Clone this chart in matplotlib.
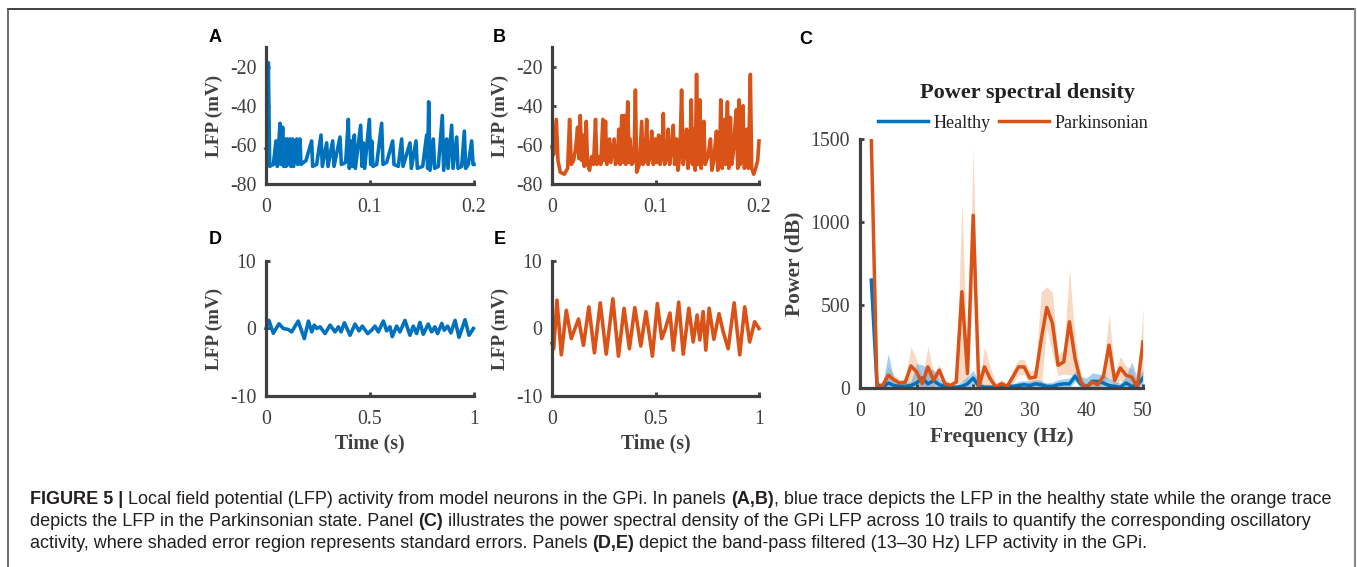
import numpy as np
import matplotlib
matplotlib.use('Agg')
import matplotlib.pyplot as plt
from matplotlib.lines import Line2D

plt.rcParams['axes.unicode_minus'] = False

# ---- data ----
# panel A: healthy LFP, time in ms, voltage in mV
a_time_ms = [0, 1.28, 2.24, 3.53, 7.05, 9.62, 10.9, 13.46, 14.42, 16.03, 16.99, 18.27,
             19.23, 20.51, 21.47, 23.08, 24.04, 25.64, 26.6, 29.49, 30.45, 32.69, 33.65,
             38.46, 43.91, 44.87, 48.72, 52.88, 54.17, 58.33, 59.62, 64.1, 65.38, 71.15,
             72.44, 76.6, 79.17, 80.13, 82.37, 83.33, 84.94, 85.9, 91.03, 92.31, 93.59,
             94.87, 99.36, 100.64, 101.6, 102.88, 106.41, 111.22, 112.5, 116.03, 121.79,
             123.08, 127.24, 130.45, 131.73, 138.46, 139.74, 144.23, 145.51, 150.64,
             154.49, 155.45, 156.41, 157.69, 160.9, 162.18, 165.71, 169.55, 170.83,
             173.72, 175.0, 178.53, 179.81, 183.33, 184.62, 188.14, 190.71, 191.99,
             194.55, 197.76, 199.04, 200.0]
a_lfp = [-62, -63, -18, -71, -70, -58, -71, -49, -70, -51, -71, -57, -71, -57, -70, -57,
         -71, -57, -71, -57, -70, -57, -70, -68, -58, -71, -70, -55, -71, -59, -71, -58,
         -71, -56, -70, -69, -47, -72, -58, -71, -55, -72, -50, -71, -59, -72, -47, -70,
         -58, -71, -70, -49, -70, -69, -58, -70, -71, -57, -71, -59, -72, -58, -72, -71,
         -55, -72, -38, -73, -57, -72, -71, -45, -73, -57, -72, -50, -72, -56, -72, -71,
         -53, -72, -70, -58, -70, -70]

# panel B: parkinsonian LFP
b_time_ms = [0, 1.61, 4.17, 5.78, 8.03, 11.88, 15.09, 17.01, 18.62, 20.87, 22.79, 24.72,
             26.0, 27.29, 28.57, 29.86, 31.14, 33.07, 34.35, 36.28, 38.2, 40.13, 42.05,
             43.34, 45.26, 47.19, 49.12, 50.4, 51.69, 52.97, 55.54, 56.82, 60.03, 61.32,
             63.24, 64.53, 65.81, 67.42, 68.7, 69.98, 71.27, 73.19, 74.48, 75.44, 77.05,
             79.29, 80.58, 81.86, 84.43, 86.68, 87.96, 89.89, 91.49, 92.78, 94.7, 96.31,
             97.91, 99.84, 101.12, 103.05, 104.33, 106.26, 107.54, 108.83, 110.75,
             112.36, 113.64, 115.57, 117.17, 118.46, 120.39, 121.67, 123.6, 125.2,
             126.81, 128.73, 130.02, 131.3, 133.23, 134.51, 135.79, 137.08, 138.36,
             139.65, 141.25, 142.86, 144.14, 145.43, 146.71, 147.99, 150.56, 153.13,
             154.41, 156.34, 157.62, 158.91, 160.19, 162.12, 163.08, 164.37, 166.29,
             167.58, 169.5, 170.79, 172.39, 173.68, 175.6, 176.89, 178.17, 179.45,
             180.74, 182.02, 183.31, 184.59, 185.87, 187.16, 188.44, 189.73, 191.65,
             192.94, 194.86, 196.79, 198.72, 200.0]
b_lfp = [-61, -65, -47, -68, -74, -75, -72, -47, -70, -68, -62, -51, -67, -45, -68, -55,
         -71, -48, -70, -73, -66, -70, -47, -70, -66, -70, -47, -68, -48, -70, -57, -69,
         -57, -70, -68, -52, -70, -45, -69, -45, -70, -38, -69, -57, -70, -68, -32, -74,
         -70, -48, -70, -68, -47, -70, -66, -53, -70, -57, -69, -55, -70, -65, -44, -70,
         -67, -52, -70, -62, -50, -70, -57, -73, -65, -32, -70, -62, -52, -72, -64, -37,
         -70, -52, -73, -24, -70, -37, -72, -62, -48, -70, -66, -57, -73, -68, -60, -53,
         -73, -62, -37, -72, -47, -70, -38, -72, -46, -70, -62, -50, -42, -72, -37, -70,
         -55, -40, -72, -66, -52, -72, -24, -72, -75, -72, -68, -58]

# panel D: healthy band-pass filtered LFP (s, mV)
d_time = [0.0, 0.014, 0.035, 0.0625, 0.083, 0.107, 0.123, 0.155, 0.184, 0.204, 0.22,
          0.232, 0.244, 0.26, 0.284, 0.308, 0.332, 0.348, 0.361, 0.377, 0.404, 0.428,
          0.447, 0.463, 0.489, 0.508, 0.524, 0.54, 0.564, 0.58, 0.596, 0.607, 0.628,
          0.644, 0.668, 0.692, 0.708, 0.724, 0.74, 0.756, 0.78, 0.796, 0.812, 0.825,
          0.845, 0.857, 0.873, 0.889, 0.909, 0.928, 0.957, 0.976, 0.992, 0.997]
d_lfp = [0.0, 1.2, -0.7, 0.7, 0.0, -0.15, -0.5, 1.1, -1.5, 1.1, -0.5, 0.5, 0.0, 0.25,
         -0.75, 0.5, -0.5, 0.25, -0.5, 0.85, -1.0, 0.65, -0.35, 0.35, -0.75, -0.25, 0.35,
         -0.5, 1.1, -0.35, 0.25, -1.2, 0.35, -0.5, 1.2, -1.0, 0.35, -0.75, 0.9, -0.85,
         0.65, -0.5, 0.25, -0.75, 0.75, -0.25, 0.35, -0.65, 1.2, -1.3, 1.3, -1.0, -0.25, 0.0]

# panel E: parkinsonian band-pass filtered LFP
e_time = [0.0, 0.008, 0.024, 0.045, 0.069, 0.093, 0.128, 0.152, 0.178, 0.205, 0.233,
          0.262, 0.294, 0.321, 0.348, 0.374, 0.4, 0.429, 0.454, 0.485, 0.509, 0.53,
          0.546, 0.57, 0.586, 0.612, 0.634, 0.661, 0.682, 0.701, 0.714, 0.73, 0.743,
          0.759, 0.782, 0.807, 0.827, 0.851, 0.88, 0.907, 0.931, 0.955, 0.979, 1.0]
e_lfp = [-2.2, -3.0, 4.2, -3.9, 2.7, -1.5, 1.4, -2.5, 3.2, -3.6, 3.8, -3.8, 4.4, -4.1,
         3.0, -3.0, 3.1, -2.6, 2.5, -4.1, 3.7, -1.5, -0.2, 2.3, -3.2, 3.9, -3.8, 3.0,
         -2.0, 2.0, -1.7, 2.5, -3.2, 3.0, -1.6, 2.2, -0.5, -3.0, 3.8, -3.9, 3.2, -2.0,
         1.0, 0.0]

# panel C: power spectral density
freq = [2, 3, 4, 5, 6, 7, 8, 9, 10, 11, 12, 13, 14, 15, 16, 17, 18, 19, 20, 21, 22, 23,
        24, 25, 26, 27, 28, 29, 30, 31, 32, 33, 34, 35, 36, 37, 38, 39, 40, 41, 42, 43,
        44, 45, 46, 47, 48, 49, 50]
pd_mean = [1500, 0, 15, 77, 50, 30, 35, 133, 97, 26, 127, 46, 107, 26, 16, 36, 580, 87,
           1040, 6, 127, 56, 6, 26, 10, 66, 127, 127, 60, 66, 288, 485, 389, 137, 157,
           399, 177, 36, 0, 36, 20, 70, 258, 46, 121, 77, 66, 6, 278]
pd_upper = [1500, 20, 40, 130, 80, 50, 60, 250, 170, 60, 250, 90, 140, 50, 30, 50, 1120,
            140, 1445, 40, 250, 130, 30, 50, 30, 110, 170, 175, 100, 110, 580, 610, 575,
            200, 230, 720, 290, 80, 20, 60, 40, 110, 445, 90, 190, 130, 120, 30, 480]
pd_lower = [1500, 0, 0, 30, 25, 10, 10, 20, 30, 0, 10, 5, 70, 5, 0, 20, 40, 35, 640, 0,
            5, 0, 0, 5, 0, 20, 80, 80, 20, 20, 0, 360, 200, 75, 85, 80, 65, 0, 0, 10, 0,
            30, 70, 5, 50, 25, 15, 0, 75]
hl_mean = [650, 20, 5, 30, 15, 10, 10, 15, 30, 60, 25, 45, 20, 10, 5, 5, 10, 25, 60, 10,
           5, 5, 5, 5, 10, 10, 15, 20, 15, 25, 20, 10, 10, 20, 25, 25, 70, 25, 5, 40, 40,
           30, 15, 10, 5, 30, 10, 15, 60]
hl_upper = [700, 40, 30, 207, 50, 30, 30, 40, 147, 140, 120, 110, 60, 30, 20, 15, 40, 70,
            106, 40, 20, 15, 15, 15, 25, 25, 40, 45, 40, 50, 45, 30, 35, 50, 55, 60, 100,
            70, 60, 90, 85, 80, 60, 40, 30, 70, 157, 60, 110]
hl_lower = [600, 0, 0, 0, 0, 0, 0, 0, 0, 10, 0, 0, 0, 0, 0, 0, 0, 0, 20, 0, 0, 0, 0, 0,
            0, 0, 0, 0, 0, 0, 0, 0, 0, 0, 0, 0, 40, 0, 0, 5, 5, 0, 0, 0, 0, 0, 0, 0, 20]

blue = '#0072BD'
orange = '#D95319'
axcol = '#404040'
serif = 'Liberation Serif'

W, H = 1357, 567
fig = plt.figure(figsize=(W / 100, H / 100), dpi=100)


def px_axes(left, top, right, bottom):
    return fig.add_axes([left / W, 1 - bottom / H, (right - left) / W, (bottom - top) / H])


def style_axes(ax):
    for s in ['top', 'right']:
        ax.spines[s].set_visible(False)
    for s in ['left', 'bottom']:
        ax.spines[s].set_color(axcol)
        ax.spines[s].set_linewidth(2.3)
    ax.tick_params(direction='in', length=3, width=2, color=axcol, labelcolor=axcol,
                   labelsize=14.3)
    ax.tick_params(axis='x', pad=10)
    ax.tick_params(axis='y', pad=7)
    for lab in ax.get_xticklabels() + ax.get_yticklabels():
        lab.set_family(serif)
    ax.patch.set_alpha(0)


def trace_axes(ax, t, v, color, xlim, xticks, xticklabels, ylim, yticks, xlabel):
    ax.plot(t, v, color=color, lw=2.6, solid_joinstyle='round', clip_on=False)
    ax.set_xlim(xlim)
    ax.set_ylim(ylim)
    ax.set_xticks(xticks)
    ax.set_xticklabels(xticklabels)
    ax.set_yticks(yticks)
    style_axes(ax)
    ax.set_ylabel('LFP (mV)', family=serif, fontweight='bold', fontsize=13.8,
                  color=axcol, va='center')
    ax.yaxis.set_label_coords(-0.25, 0.5)
    if xlabel:
        ax.set_xlabel(xlabel, family=serif, fontweight='bold', fontsize=14.3,
                      color=axcol, va='center')
        ax.xaxis.set_label_coords(0.5, -0.35)


axA = px_axes(266, 47, 474, 184)
trace_axes(axA, np.array(a_time_ms) / 1000, a_lfp, blue, (0, 0.2), [0, 0.1, 0.2],
           ['0', '0.1', '0.2'], (-80, -10), [-80, -60, -40, -20], None)
axB = px_axes(552, 47, 759, 184)
trace_axes(axB, np.array(b_time_ms) / 1000, b_lfp, orange, (0, 0.2), [0, 0.1, 0.2],
           ['0', '0.1', '0.2'], (-80, -10), [-80, -60, -40, -20], None)
axD = px_axes(266, 261, 474, 396)
trace_axes(axD, d_time, d_lfp, blue, (0, 1), [0, 0.5, 1], ['0', '0.5', '1'],
           (-10, 10), [-10, 0, 10], 'Time (s)')
axE = px_axes(552, 261, 759, 396)
trace_axes(axE, e_time, e_lfp, orange, (0, 1), [0, 0.5, 1], ['0', '0.5', '1'],
           (-10, 10), [-10, 0, 10], 'Time (s)')

# panel C
axC = px_axes(860, 139, 1143, 388)
axC.fill_between(freq, pd_lower, pd_upper, color='#EFA26A', alpha=0.4, lw=0)
axC.fill_between(freq, hl_lower, hl_upper, color='#3A95DC', alpha=0.45, lw=0)
axC.plot(freq, hl_mean, color=blue, lw=2.5, label='Healthy')
axC.plot(freq, pd_mean, color=orange, lw=2.5, label='Parkinsonian')
axC.set_xlim(0, 50)
axC.set_ylim(0, 1500)
axC.set_xticks([0, 10, 20, 30, 40, 50])
axC.set_yticks([0, 500, 1000, 1500])
style_axes(axC)
axC.set_ylabel('Power (dB)', family=serif, fontweight='bold', fontsize=15.5,
               color=axcol, va='center')
axC.yaxis.set_label_coords(-0.23, 0.5)
axC.set_xlabel('Frequency (Hz)', family=serif, fontweight='bold', fontsize=15.5,
               color=axcol, va='center')
axC.xaxis.set_label_coords(0.5, -0.197)

fig.text(1027 / W, 1 - 93 / H, 'Power spectral density', family=serif,
         fontweight='bold', fontsize=16, color='#222222', ha='center', va='center')
fig.legend(handles=axC.get_lines(), loc='center', bbox_to_anchor=(1013 / W, 1 - 123 / H),
           ncol=2, frameon=False, prop={'family': serif, 'size': 13},
           handlelength=2.8, handletextpad=0.3, columnspacing=0.45, labelcolor='#222222')

# panel letters
for lab, x, y in [('A', 215, 38), ('B', 499, 38), ('C', 806, 40), ('D', 215, 240), ('E', 500, 240)]:
    fig.text(x / W, 1 - y / H, lab, family='Liberation Sans', fontweight='bold',
             fontsize=13, ha='center', va='center', color='black')

# caption with bold pieces
renderer = fig.canvas.get_renderer()
cap_kw = dict(family='Liberation Sans', fontsize=12.95, color='#231F20')


def text_width(s, weight):
    t1 = fig.text(0, 0, '|' + s + '|', fontweight=weight, **cap_kw)
    t2 = fig.text(0, 0, '||', fontweight=weight, **cap_kw)
    w = t1.get_window_extent(renderer).width - t2.get_window_extent(renderer).width
    t1.remove()
    t2.remove()
    return w


caption = [
    [('FIGURE 5 |', 'bold'),
     (' Local field potential (LFP) activity from model neurons in the GPi. In panels ', 'normal'),
     ('(A,B)', 'bold'),
     (', blue trace depicts the LFP in the healthy state while the orange trace', 'normal')],
    [('depicts the LFP in the Parkinsonian state. Panel ', 'normal'), ('(C)', 'bold'),
     (' illustrates the power spectral density of the GPi LFP across 10 trails to quantify the corresponding oscillatory', 'normal')],
    [('activity, where shaded error region represents standard errors. Panels ', 'normal'),
     ('(D,E)', 'bold'),
     (' depict the band-pass filtered (13\u201330 Hz) LFP activity in the GPi.', 'normal')],
]
for i, line in enumerate(caption):
    x = 30
    y = 499 + 22 * i
    for s, wgt in line:
        fig.text(x / W, 1 - y / H, s, fontweight=wgt, ha='left', va='center', **cap_kw)
        x += text_width(s, wgt)

# frame around figure
fig.add_artist(Line2D([8 / W, 1355 / W], [1 - 9 / H, 1 - 9 / H], color='#222222', lw=1.2))
fig.add_artist(Line2D([8 / W, 8 / W], [1 - 9 / H, 0], color='#555555', lw=1.2))
fig.add_artist(Line2D([1355 / W, 1355 / W], [1 - 9 / H, 0], color='#888888', lw=1.5))

fig.savefig('out.png', dpi=100, facecolor='white')
